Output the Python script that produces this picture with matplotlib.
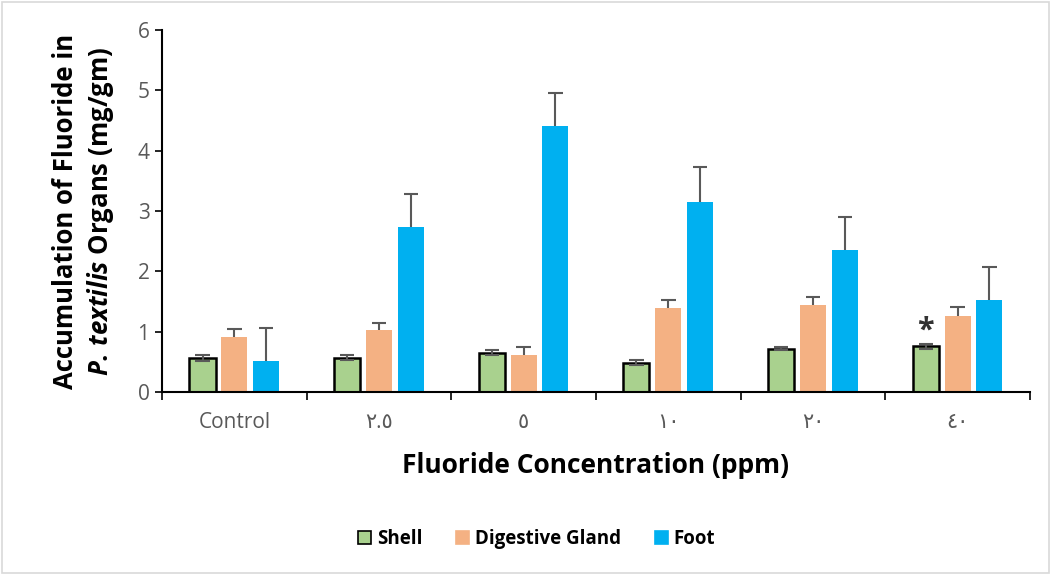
import matplotlib
matplotlib.use("Agg")
import matplotlib.pyplot as plt
import numpy as np
from matplotlib.patches import Rectangle, Patch

categories = ["Control", "٢.٥", "٥", "١٠", "٢٠", "٤٠"]
series_names = ["Shell", "Digestive Gland", "Foot"]
shell = [0.57, 0.57, 0.65, 0.49, 0.72, 0.76]
shell_err = [0.05, 0.04, 0.04, 0.04, 0.03, 0.04]
gland = [0.92, 1.03, 0.62, 1.40, 1.45, 1.26]
gland_err = [0.12, 0.11, 0.13, 0.12, 0.12, 0.15]
foot = [0.52, 2.73, 4.40, 3.15, 2.35, 1.52]
foot_err = [0.55, 0.55, 0.55, 0.58, 0.55, 0.56]
yticks = [0, 1, 2, 3, 4, 5, 6]

colors = ["#A9D18E", "#F4B183", "#00B0F0"]
edges = ["black", "none", "none"]

fam = ["Open Sans", "DejaVu Sans"]
plt.rcParams["font.family"] = fam
plt.rcParams["mathtext.fontset"] = "custom"
plt.rcParams["mathtext.it"] = "Open Sans:italic:bold"
plt.rcParams["mathtext.rm"] = "Open Sans:bold"

fig = plt.figure(figsize=(10.52, 5.75), dpi=100)
ax = fig.add_axes([0.154, 0.318, 0.825, 0.63])

x = np.arange(len(categories))
width = 0.18
offsets = [-0.22, 0.0, 0.22]
data = [shell, gland, foot]
errs = [shell_err, gland_err, foot_err]
lower = [True, False, False]
cap = 0.05
for i in range(3):
    xs = x + offsets[i]
    vals = np.array(data[i])
    e = np.array(errs[i])
    ax.bar(xs, vals, width, color=colors[i],
           edgecolor=edges[i], linewidth=1.8 if edges[i] != "none" else 0,
           label=series_names[i], zorder=2)
    lo = vals - e if lower[i] else vals
    ax.vlines(xs, lo, vals + e, color="#595959", linewidth=1.5, zorder=3)
    ax.hlines(vals + e, xs - cap, xs + cap, color="#595959", linewidth=1.5, zorder=3)
    if lower[i]:
        ax.hlines(vals - e, xs - cap, xs + cap, color="#595959", linewidth=1.5, zorder=3)

# asterisk above 40 ppm shell
ax.text(x[-1] + offsets[0], shell[-1] + shell_err[-1] - 0.03, "*",
        ha="center", va="bottom", fontsize=22, fontweight="bold",
        color="#333333")

ax.set_xlim(-0.5, len(categories) - 0.5)
ax.set_ylim(0, 6)
ax.set_yticks(yticks)
ax.tick_params(axis="y", labelsize=15, labelcolor="#595959",
               length=5, width=1.2, color="black", pad=4)
ax.set_xticks(np.arange(len(categories) + 1) - 0.5)
ax.set_xticklabels([])
ax.tick_params(axis="x", which="major", length=6, width=1.2, color="black")
ax.set_xticks(x, minor=True)
ax.set_xticklabels(categories, minor=True)
ax.tick_params(axis="x", which="minor", length=0, labelsize=15,
               labelcolor="#595959", pad=14)

for s in ["top", "right"]:
    ax.spines[s].set_visible(False)
for s in ["left", "bottom"]:
    ax.spines[s].set_linewidth(1.5)
    ax.spines[s].set_color("black")

ax.set_xlabel("Fluoride Concentration (ppm)", fontsize=19,
              fontweight="bold", labelpad=14)

fig.text(0.0627, 0.633, "Accumulation of Fluoride in", rotation=90,
         ha="center", va="center", fontsize=18.5, fontweight="bold")
fig.text(0.096, 0.633, r"$\mathit{P.\,textilis}$ Organs (mg/gm)", rotation=90,
         ha="center", va="center", fontsize=18.5, fontweight="bold")

handles = [Patch(facecolor=colors[i], edgecolor=edges[i] if edges[i] != "none" else colors[i],
                 linewidth=1.2) for i in range(3)]
fig.legend(handles, series_names, loc="center", bbox_to_anchor=(0.51, 0.063),
           ncol=3, frameon=False, prop={"weight": "bold", "size": 13.5},
           handlelength=0.7, handleheight=0.7, handletextpad=0.3,
           columnspacing=1.8)

fig.patches.append(Rectangle((0.002, 0.003), 0.995, 0.993, transform=fig.transFigure,
                             fill=False, edgecolor="#D9D9D9", linewidth=1.2))

fig.savefig("out.png", dpi=100)
